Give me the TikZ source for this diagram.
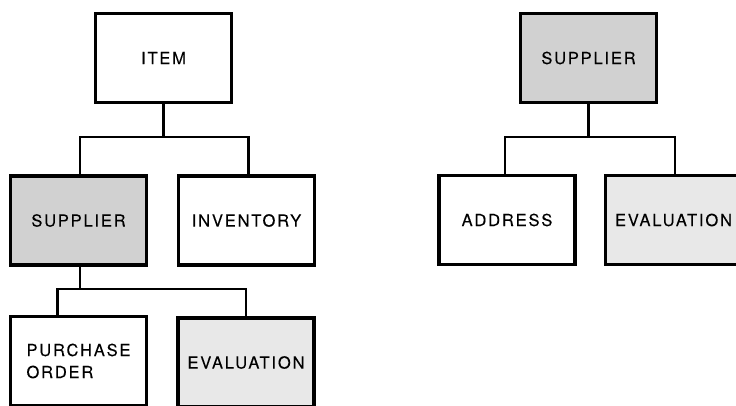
\documentclass[tikz,border=0pt]{standalone}
\usepackage{fontspec}
\setmainfont[LetterSpace=11,FakeBold=0.1]{TeX Gyre Heros}
\begin{document}
\begin{tikzpicture}[x=1pt,y=-1pt,
  box/.style={draw=black, line width=3.3pt, rectangle, minimum width=136pt,
    minimum height=89pt, inner sep=0pt, font=\fontsize{16.5}{22}\selectfont},
  shadedbox/.style={box, fill=black!18},
  lightbox/.style={box, fill=black!9},
  link/.style={draw=black, line width=2.4pt}]
  \clip (0,0) rectangle (736,406);
  \fill[white] (0,0) rectangle (736,406);

  % item hierarchy
  \node[box]       (item) at (163.5,58)    {ITEM};
  \node[shadedbox] (supA) at (78.5,220.5)  {SUPPLIER};
  \node[box]       (inv)  at (246.5,220.5) {INVENTORY};
  \node[box, align=left] (po) at (78.5,361) {PURCHASE\\ORDER};
  \node[lightbox]  (evA)  at (246,362.5)   {EVALUATION};

  \coordinate (busA) at (163.5,137);
  \draw[link] (item.south) -- (busA);
  \draw[link] ([xshift=1.5pt]supA.north) |- (busA) -| ([xshift=2pt]inv.north);

  \coordinate (busB) at (80,289);
  \draw[link] ([xshift=1.5pt]supA.south) -- (busB);
  \draw[link] ([xshift=-21pt,yshift=-1.5pt]po.north) |- (busB) -| (evA.north);

  % supplier hierarchy
  \node[shadedbox] (supB) at (588.5,58)  {SUPPLIER};
  \node[box]       (addr) at (507,220)   {ADDRESS};
  \node[lightbox]  (evB)  at (673.5,220) {EVALUATION};

  \coordinate (busC) at (588.5,137);
  \draw[link] (supB.south) -- (busC);
  \draw[link] ([xshift=-2pt]addr.north) |- (busC) -| ([xshift=1.5pt]evB.north);
\end{tikzpicture}
\end{document}
